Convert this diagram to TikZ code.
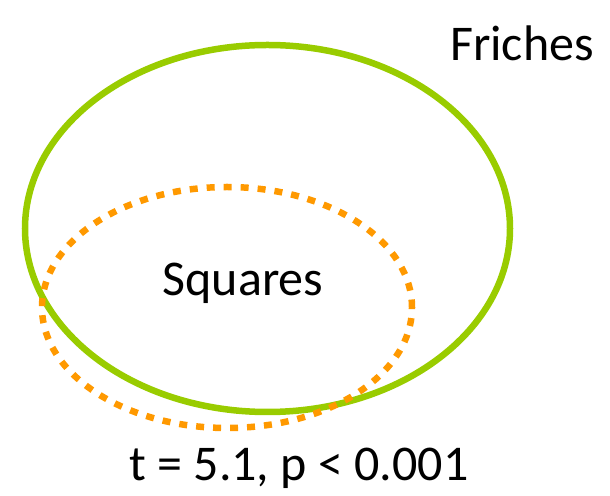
\documentclass[tikz,border=0pt]{standalone}
\usepackage{fontspec}
\setmainfont{Carlito}
\usetikzlibrary{positioning}
\definecolor{frichecol}{RGB}{153,204,0}
\definecolor{squarecol}{RGB}{255,153,0}
\tikzset{
  setline/.style={draw=frichecol,line width=6.5pt},
  subsetline/.style={draw=squarecol,line width=6.5pt,dash pattern=on 8pt off 9pt},
  label/.style={inner sep=0pt,font=\fontsize{50}{60}\selectfont}
}
\begin{document}
\begin{tikzpicture}[x=1pt,y=1pt]
  \useasboundingbox (0,0) rectangle (610,495);
  \draw[setline] (267.5,266.5) ellipse [x radius=242.5,y radius=183.5];
  \draw[subsetline] (227,187.5) ellipse [x radius=185,y radius=120.5];
  \node[label] (friches) at (522,452) {Friches};
  \node[label] (squares) at (243,212) {Squares};
  \node[label] (stats) at (299,27) {t = 5.1, p < 0.001};
\end{tikzpicture}
\end{document}
